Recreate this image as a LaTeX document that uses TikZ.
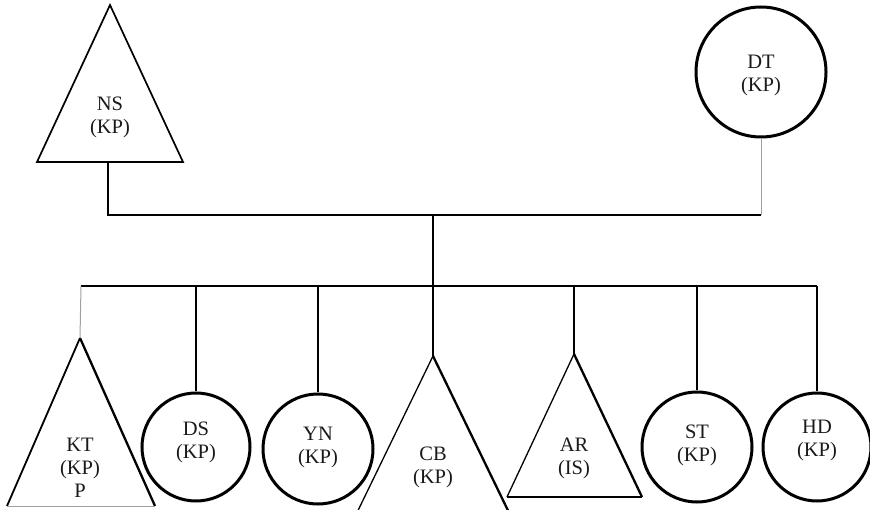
\documentclass[tikz,border=0pt]{standalone}
\usepackage{fontspec}
\setmainfont{Liberation Serif}
\definecolor{ink}{HTML}{000000}
\definecolor{txt}{HTML}{1A1A1A}
\definecolor{thinline}{HTML}{A0A0A0}
\tikzset{
  circ/.style={circle, draw=ink, line width=3pt, minimum size=#1, inner sep=0pt},
  lab/.style={align=center, text=txt, font=\fontsize{20.5}{23}\selectfont, inner sep=0pt},
  conn/.style={draw=ink, line width=2pt},
  faint/.style={draw=thinline, line width=1pt},
  triL/.style={draw=ink, line width=1.3pt},
  triR/.style={draw=ink, line width=2.3pt},
  triB/.style={draw=ink, line width=1.8pt}
}
\begin{document}
\begin{tikzpicture}[x=1pt,y=-1pt]
\useasboundingbox (0,0) rectangle (870,510);
\clip (0,0) rectangle (870,510);

% ---- top generation ----
% NS triangle
\coordinate (nsapex) at (110,5);
\coordinate (nsbl) at (37,162);
\coordinate (nsbr) at (183,162);
\coordinate (nsb) at (108,162);
\draw[line width=1.7pt, draw=ink, line join=miter] (nsapex) -- (nsbr) -- (nsbl) -- cycle;
\node[lab] (nslab) at (110,117) {NS\\(KP)};

% DT circle
\node[circ=130pt] (dt) at (761,72) {};
\node[lab] (dtlab) at (761,75) {DT\\(KP)};

% marriage line
\coordinate (j1) at (108,215);
\coordinate (j2) at (761,215);
\coordinate (m1) at (433,215);
\coordinate (m2) at (433,286);
\draw[conn] (nsb) -- (j1) -- (j2);
\draw[faint] (j2) -- (dt.south);
\draw[conn] (m1) -- (m2);

% sibling line
\coordinate (s1) at (81,286);
\coordinate (s7) at (817,286);
\draw[conn] (s1) -- (s7);

% ---- children ----
% KT triangle
\coordinate (ktapex) at (80,338);
\coordinate (ktbl) at (7,506);
\coordinate (ktbr) at (155,506);
\draw[triB] (ktapex) -- (ktbl);
\draw[triR] (ktapex) -- (ktbr);
\draw[faint] (ktbl) -- (ktbr);
\node[lab] (ktlab) at (80,468) {KT\\(KP)\\P};
\draw[faint] (s1) -- (ktapex);

% DS circle
\node[circ=108pt] (ds) at (196,447) {};
\node[lab] (dslab) at (196,442) {DS\\(KP)};
\draw[conn] (s1 -| ds.north) -- (ds.north);

% YN circle
\node[circ=110pt] (yn) at (318,449) {};
\node[lab] (ynlab) at (318,447) {YN\\(KP)};
\draw[conn] (s1 -| yn.north) -- (yn.north);

% CB triangle (runs off the bottom)
\coordinate (cbapex) at (433,356);
\coordinate (cbbl) at (350,527);
\coordinate (cbbr) at (516,527);
\draw[triL] (cbapex) -- (cbbl);
\draw[triR] (cbapex) -- (cbbr);
\draw[triB] (cbbl) -- (cbbr);
\node[lab] (cblab) at (433,467) {CB\\(KP)};
\draw[conn] (m2) -- (cbapex);

% AR triangle
\coordinate (arapex) at (574,354);
\coordinate (arbl) at (507,497);
\coordinate (arbr) at (642,497);
\draw[triL] (arapex) -- (arbl);
\draw[triR] (arapex) -- (arbr);
\draw[triB] (arbl) -- (arbr);
\node[lab] (arlab) at (574,458) {AR\\(IS)};
\draw[conn] (s1 -| arapex) -- (arapex);

% ST circle
\node[circ=110pt] (st) at (697,447) {};
\node[lab] (stlab) at (697,445) {ST\\(KP)};
\draw[conn] (s1 -| st.north) -- (st.north);

% HD circle
\node[circ=108pt] (hd) at (817,447) {};
\node[lab] (hdlab) at (817,440) {HD\\(KP)};
\draw[conn] (s7) -- (hd.north);
\end{tikzpicture}
\end{document}
